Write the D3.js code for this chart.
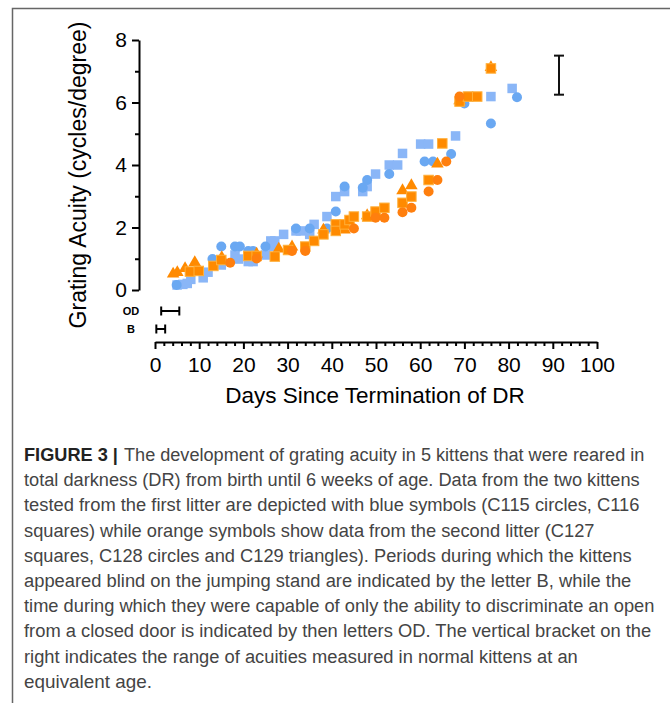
<!DOCTYPE html>
<html><head><meta charset="utf-8">
<script src="https://cdn.jsdelivr.net/npm/d3@7"></script>
<style>
body{margin:0;background:#fff;}
svg{display:block;}
</style></head>
<body>
<svg id="chart" width="670" height="703"></svg>
<script>
// ---- data (day since termination of DR, acuity cycles/degree) ----
const C115_circles_blue = [[4.9,0.16],[13,0.99],[15,1.39],[18.1,1.39],[19.2,1.39],[21.1,1.25],[22.2,1.25],[25,1.39],[31.9,1.97],[35,1.97],[38.9,1.97],[40.9,2.51],[42.9,3.31],[47,3.27],[48,3.52],[53,3.71],[61,4.11],[62.9,4.11],[67,4.35],[70,5.97],[76,5.33],[81.9,6.17]];
const C116_squares_blue = [[5,0.16],[6.3,0.18],[7.3,0.21],[8.1,0.34],[10.9,0.39],[12,0.57],[13.2,0.8],[15,0.8],[18.1,1.12],[18.9,0.99],[21.1,0.91],[22.2,0.91],[25,1.12],[26.2,1.57],[27.1,1.57],[26.8,1.39],[29.1,1.78],[31.9,1.89],[32.9,1.89],[35,1.78],[36,2.1],[38.9,2.35],[40.9,2.99],[42.9,3.15],[47,3.15],[48,3.31],[49.9,3.71],[53,4],[54.9,4],[56,4.37],[60.1,4.67],[61.9,4.67],[68,4.93],[71.1,6.19],[76,6.19],[80.8,6.45]];
const C128_circles_orange = [[17,0.87],[23,1.01],[31,1.25],[34,1.25],[45,1.97],[49.9,2.31],[51.9,2.31],[56,2.49],[58,2.63],[61.9,3.15],[63.9,3.52],[65.9,4.11],[68.9,6.19]];
const C127_squares_orange = [[7.9,0.59],[9.9,0.61],[13.2,0.77],[15,0.96],[21.1,1.09],[23,1.09],[27.1,1.07],[30.1,1.28],[34,1.39],[36,1.57],[38.1,1.78],[40.9,2.1],[40.9,1.89],[42.9,2.1],[44,2.24],[45,2.35],[48,2.35],[49.9,2.51],[51.9,2.63],[56,2.79],[58,2.99],[61.9,3.52],[65,4.69],[68.9,6.03],[70.8,6.19],[72.9,6.19],[76,7.09]];
const C129_triangles_orange = [[4.1,0.48],[5.05,0.53],[6.8,0.66],[9,0.85],[15.1,1.01],[23,1.12],[28,1.28],[31,1.35],[38.1,1.89],[42.9,1.89],[48,2.35],[56,3.15],[58,3.31],[63.9,4.0],[68.9,6.03],[76,7.09]];
const normalRange = {day:91.4, low:6.25, high:7.5};
const periodOD = [1.4,5.5];
const periodB = [0.3,2.3];
const xTicks = [0,10,20,30,40,50,60,70,80,90,100];
const yTicks = [0,2,4,6,8];
const xLabel = "Days Since Termination of DR";
const yLabel = "Grating Acuity (cycles/degree)";
const captionBold = "FIGURE 3 |";
const captionLines = [
 "The development of grating acuity in 5 kittens that were reared in",
 "total darkness (DR) from birth until 6 weeks of age. Data from the two kittens",
 "tested from the first litter are depicted with blue symbols (C115 circles, C116",
 "squares) while orange symbols show data from the second litter (C127",
 "squares, C128 circles and C129 triangles). Periods during which the kittens",
 "appeared blind on the jumping stand are indicated by the letter B, while the",
 "time during which they were capable of only the ability to discriminate an open",
 "from a closed door is indicated by then letters OD. The vertical bracket on the",
 "right indicates the range of acuities measured in normal kittens at an",
 "equivalent age."
];
const captionEnds = [645,640,640,595,632,632,655,652,578,152];

// ---- drawing ----
const svg = d3.select("#chart");
const font = "'Liberation Sans', Arial, Helvetica, sans-serif";

// frame
svg.append("path").attr("d","M12.5,703 V8.5 H670").attr("fill","none").attr("stroke","#666").attr("stroke-width",1.5);

const x = d3.scaleLinear().domain([0,100]).range([155,597]);
const y = d3.scaleLinear().domain([0,8]).range([290,40]);

// y axis
const yAxisX = 139;
const gy = svg.append("g").attr("transform",`translate(${yAxisX},0)`)
  .call(d3.axisLeft(y).tickValues(yTicks).tickSize(7).tickSizeOuter(0).tickPadding(5).tickFormat(d3.format("d")));
const gym = svg.append("g").attr("transform",`translate(${yAxisX},0)`)
  .call(d3.axisLeft(y).tickValues([1,3,5,7]).tickSize(4).tickSizeOuter(0).tickFormat(""));
gym.select(".domain").remove();
// x axis
const xAxisY = 342;
const gx = svg.append("g").attr("transform",`translate(0,${xAxisY})`)
  .call(d3.axisBottom(x).tickValues(xTicks).tickSize(7).tickSizeOuter(0).tickPadding(8).tickFormat(d3.format("d")));
const gxm = svg.append("g").attr("transform",`translate(0,${xAxisY})`)
  .call(d3.axisBottom(x).tickValues(d3.range(2,100,2).filter(d=>d%10!==0)).tickSize(4).tickSizeOuter(0).tickFormat(""));
gxm.select(".domain").remove();
[gy,gym,gx,gxm].forEach(g=>{
  g.selectAll(".domain").attr("stroke","#000").attr("stroke-width",2);
  g.selectAll(".tick line").attr("stroke","#000").attr("stroke-width",2);
  g.selectAll(".tick text").attr("fill","#000").style("font-family",font).style("font-size","21px");
});

// axis titles
svg.append("text").attr("x",375).attr("y",403).attr("text-anchor","middle")
  .style("font-family",font).style("font-size","22.5px").attr("fill","#000").text(xLabel);
svg.append("text").attr("transform",`translate(86,175) rotate(-90)`).attr("text-anchor","middle")
  .style("font-family",font).style("font-size","23px").attr("fill","#000").text(yLabel);

// OD / B brackets
function hBracket(d0,d1,yy){
  const g = svg.append("g").attr("stroke","#000").attr("stroke-width",2).attr("fill","none");
  g.append("line").attr("x1",x(d0)).attr("x2",x(d1)).attr("y1",yy).attr("y2",yy);
  g.append("line").attr("x1",x(d0)).attr("x2",x(d0)).attr("y1",yy-4.5).attr("y2",yy+4.5);
  g.append("line").attr("x1",x(d1)).attr("x2",x(d1)).attr("y1",yy-4.5).attr("y2",yy+4.5);
}
hBracket(periodOD[0],periodOD[1],311);
hBracket(periodB[0],periodB[1],329);
svg.append("text").attr("x",131).attr("y",315).attr("text-anchor","middle").style("font-family",font)
  .style("font-size","11px").style("font-weight","bold").text("OD");
svg.append("text").attr("x",131).attr("y",333).attr("text-anchor","middle").style("font-family",font)
  .style("font-size","11px").style("font-weight","bold").text("B");

// normal range bracket
{
  const g = svg.append("g").attr("stroke","#111").attr("stroke-width",2);
  const bx = x(normalRange.day);
  g.append("line").attr("x1",bx).attr("x2",bx).attr("y1",y(normalRange.low)).attr("y2",y(normalRange.high));
  g.append("line").attr("x1",bx-5).attr("x2",bx+5).attr("y1",y(normalRange.low)).attr("y2",y(normalRange.low));
  g.append("line").attr("x1",bx-5).attr("x2",bx+5).attr("y1",y(normalRange.high)).attr("y2",y(normalRange.high));
}

// markers
const plot = svg.append("g");
function circles(data, fill){
  plot.append("g").selectAll("circle").data(data).join("circle")
    .attr("cx",d=>x(d[0])).attr("cy",d=>y(d[1])).attr("r",5).attr("fill",fill);
}
function squares(data, fill, stroke){
  const s = 9.5;
  plot.append("g").selectAll("rect").data(data).join("rect")
    .attr("x",d=>x(d[0])-s/2).attr("y",d=>y(d[1])-s/2).attr("width",s).attr("height",s)
    .attr("fill",fill).attr("stroke",stroke||"none").attr("stroke-width",1);
}
function triangles(data, fill){
  const sym = d3.symbol().type(d3.symbolTriangle).size(68);
  plot.append("g").selectAll("path").data(data).join("path")
    .attr("transform",d=>`translate(${x(d[0])},${y(d[1])-1})`).attr("d",sym).attr("fill",fill);
}
squares(C116_squares_blue, "#8ab6f7");
circles(C115_circles_blue, "#6aa8f2");
triangles(C129_triangles_orange, "#ff8a00");
squares(C127_squares_orange, "#ff8a00", "#ffb03a");
circles(C128_circles_orange, "#ff7f0e");

// caption: each line horizontally scaled to fit its measured extent
const capTop = 461, lh = 25.2, capX = 24;
const capSize = "19px";
function fitText(x0, x1, yy, str, bold, fill){
  const g = svg.append("g");
  const t = g.append("text").attr("x",0).attr("y",0).style("font-family",font).style("font-size",capSize)
    .style("font-weight", bold ? "bold" : "normal").attr("fill",fill).text(str);
  const w = t.node().getComputedTextLength();
  const k = (x1 - x0) / w;
  g.attr("transform",`translate(${x0},${yy}) scale(${k},1)`);
}
captionLines.forEach((line,i)=>{
  const yy = capTop + i*lh;
  if(i===0){
    fitText(capX, 118, yy, captionBold, true, "#222");
    fitText(124, captionEnds[i], yy, line, false, "#444");
  } else {
    fitText(capX, captionEnds[i], yy, line, false, "#444");
  }
});
</script>
</body></html>
